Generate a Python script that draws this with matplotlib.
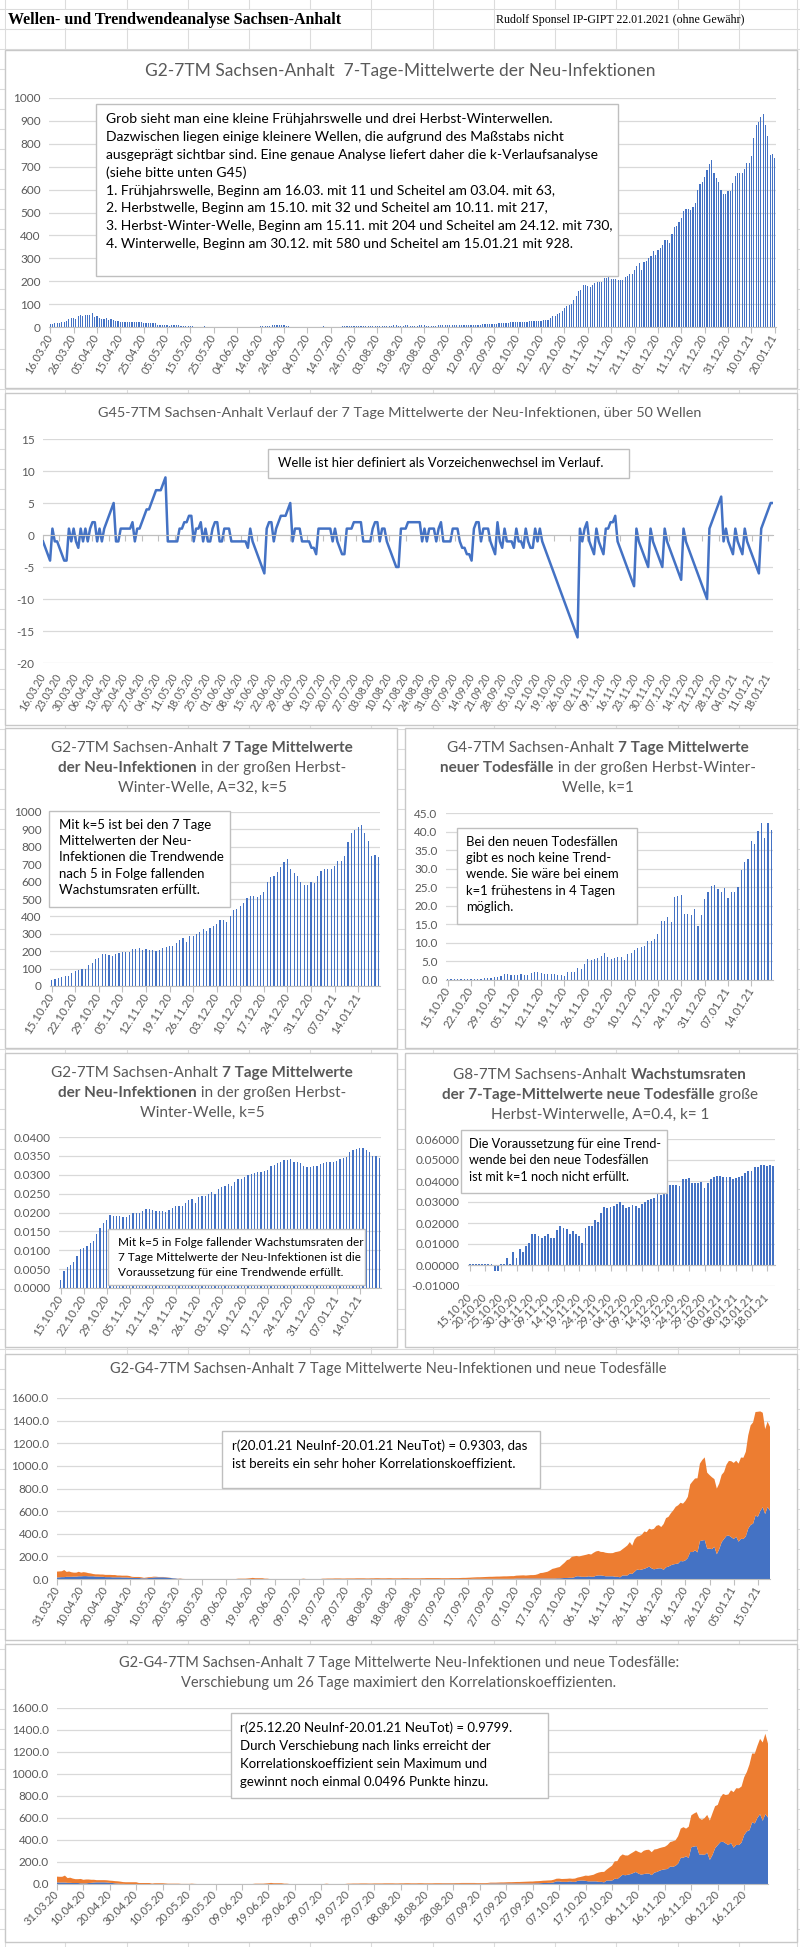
import numpy as np
import pandas as pd
import matplotlib
matplotlib.use('Agg')
import matplotlib.pyplot as plt
from matplotlib.patches import Rectangle
from matplotlib.offsetbox import TextArea, HPacker, AnnotationBbox
from matplotlib.ticker import FuncFormatter, FixedLocator, MultipleLocator

plt.rcParams['font.family'] = ['Lato', 'DejaVu Sans']

# ---------------- DATA ----------------
# 7-day means of new infections, 16.03.20 .. 14.10.20
INF_BEFORE = [
    11, 15, 17, 17, 17, 20, 22, 28, 33, 38,
    40, 36, 50, 52, 48, 52, 52, 52, 63, 43,
    47, 40, 35, 35, 40, 32, 35, 32, 28, 25,
    20, 20, 20, 20, 20, 20, 20, 20, 20, 20,
    16, 16, 16, 16, 16, 16, 9, 9, 9, 9,
    9, 4, 7, 7, 7, 7, 5, 3, 3, 3,
    3, 3, 1, 1, 1, 1, 3, 1, 0, 0,
    0, 0, 0, 0, 0, 0, 0, 0, 0, 0,
    0, 0, 0, 0, 0, 0, 0, 0, 0, 0,
    3, 3, 3, 3, 5, 7, 10, 7, 7, 7,
    7, 3, 3, 0, 0, 0, 0, 0, 0, 0,
    0, 0, 0, 0, 0, 0, 0, 3, 0, 0,
    0, 0, 0, 0, 0, 3, 3, 4, 4, 4,
    5, 5, 5, 4, 4, 5, 5, 5, 5, 6,
    6, 6, 6, 5, 5, 6, 6, 7, 7, 6,
    6, 6, 7, 7, 6, 6, 6, 6, 7, 7,
    7, 6, 6, 6, 6, 6, 7, 7, 8, 8,
    8, 8, 8, 8, 7, 7, 7, 7, 8, 8,
    8, 8, 9, 10, 10, 11, 12, 12, 13, 14,
    14, 15, 16, 17, 18, 18, 19, 20, 20, 21,
    22, 22, 23, 24, 24, 25, 26, 27, 28, 26,
    28, 30, 30]
# 7-day means of new infections, 15.10.20 .. 20.01.21 (autumn-winter wave)
INF_WAVE = [
    32, 38, 48, 50, 55, 60, 72, 85, 90, 95,
    100, 118, 135, 158, 163, 185, 185, 180, 175, 185,
    190, 195, 197, 197, 212, 215, 217, 208, 210, 208,
    205, 204, 205, 218, 222, 232, 232, 248, 265, 278,
    250, 285, 290, 300, 308, 330, 315, 335, 343, 358,
    380, 382, 365, 405, 435, 440, 460, 478, 505, 515,
    515, 510, 525, 540, 598, 625, 635, 655, 685, 712, 730,
    672, 650, 635, 598, 580, 580, 595, 592, 630, 660,
    672, 672, 672, 690, 718, 718, 748, 825, 880, 895, 915,
    928,
    880, 835, 750, 755, 740]
INF = INF_BEFORE + INF_WAVE

# k-Verlauf (sign-change course) of the 7-day means, 16.03.20 .. 20.01.21
K_COURSE = [
    -1, -2, -3, -4, 1, -1, -1, -2, -3, -4, -4,
    1, -1, 1, -1, -2, 1, -1, 1, -1, 1, 2, 2,
    -1, 1, -1, 1, 2, 3, 4, 5, -1, -1,
    1, 1, 1, 1, 1, 2, -1, 1, 1, 2, 3, 4, 4, 5, 6, 7, 7, 7, 8, 9,
    -1, -1, -1, -1, -1,
    1, 1, 2, 2, 3, 3,
    -1, 1, 1, 2, -1, 1, -1, -1, 1, 2, 2, -1, -1, 1, 1, 1,
    -1, -1, -1, -1, -1, -1, -1, -2, 1,
    -1, -2, -3, -4, -5, -6, 1, 2, 2, -1,
    1, 2, 3, 3, 3, 4, 5,
    -1, 1, 1, 1, -1, -1, -1, -1, -2, -2, -3,
    1, 1, 1, 1, 1, 1,
    -1, 1, -1, -2, -3, -3,
    1, 1, 1, 2, 2, 2, 2,
    -1, -1, -1, -1,
    1, 2, 2, -1, 1, 1, -1, -2, -3, -4, -5, -5,
    1, 1, 1, 2, 2, 2, 2, 2, 2, -1,
    1, -1, 1, 1, 1, -1, 1, 2, -1, -1, -1, -1, 1, 1, 1, -1, -2, -2, -3, -3, -4,
    1, 2, 2, -1, 1, 1, 1, -1, -2, -3, 2, -1, -2, 1, -1, -1, -1, -2, 1, -1,
    -1, -2, 1, -1, -2, -2, 1, -1, 1, -1, -2, -3, -4, -5, -6, -7, -8, -9, -10,
    -11, -12, -13, -14, -15, -16,
    1, -1, 1, 2, -1, -2, -3, 1, -1, -2, -3, 1, 1, 2, 2, 3, -1, -2, -3, -4, -5, -6, -7, -8,
    1, -1, -2, -3, -4, -5,
    1, -1, -2, -3, -4, -5,
    1, -1, -2, -3, -4, -5, -6, -7,
    1, -1, -2, -3, -4, -5, -6, -7, -8, -9, -10,
    1, 2, 3, 4, 5, 6,
    -1, 1, -1, -2, -3,
    1, -1, -2, -3,
    1, -1, -2, -3, -4, -5, -6,
    1, 2, 3, 4, 5, 5]

# 7-day means of new deaths, 31.03.20 .. 14.10.20
DEATH_BEFORE = [
    0.9, 1.0, 1.1, 1.1, 1.3, 1.3, 1.3, 1.4, 1.4, 1.6,
    1.6, 1.7, 1.7, 1.6, 1.6, 1.6, 1.4, 1.4, 1.3, 1.3,
    1.1, 1.1, 1.1, 1.0, 1.0, 1.0, 1.0, 0.9, 0.9, 0.9, 0.7,
    0.7, 0.6, 0.6, 0.6, 0.4, 0.4, 0.4, 0.6, 0.7, 0.9,
    1.0, 1.0, 1.0, 1.0, 0.9, 0.7, 0.6, 0.4, 0.3, 0.1,
    0.1, 0, 0, 0, 0, 0, 0, 0, 0, 0, 0,
    0, 0, 0, 0, 0, 0, 0, 0, 0, 0,
    0, 0, 0, 0, 0, 0, 0, 0, 0, 0,
    0, 0, 0, 0, 0, 0, 0, 0, 0, 0,
    0, 0, 0, 0, 0, 0, 0, 0, 0, 0,
    0, 0, 0, 0, 0, 0, 0, 0, 0, 0,
    0, 0, 0, 0, 0, 0, 0, 0, 0, 0, 0,
    0, 0, 0, 0, 0, 0, 0, 0, 0, 0,
    0, 0, 0, 0, 0, 0, 0, 0, 0, 0,
    0, 0, 0, 0, 0, 0, 0, 0, 0, 0, 0,
    0, 0, 0, 0, 0, 0, 0, 0, 0, 0,
    0, 0, 0, 0, 0, 0, 0, 0, 0.1, 0.1,
    0.1, 0.1, 0.1, 0.1, 0.1, 0.1, 0.1, 0.1, 0.1, 0.1,
    0.1, 0.1, 0.1, 0.1, 0.1, 0.1, 0.3, 0.3, 0.3, 0.3,
    0.3, 0.3, 0.3, 0.3]
# 7-day means of new deaths, 15.10.20 .. 20.01.21
DEATH_WAVE = [
    0.3, 0.3, 0.3, 0.3, 0.3, 0.3, 0.3, 0.3, 0.3, 0.4, 0.4, 0.5,
    0.6, 0.6, 0.7, 0.7, 1.0, 1.6, 1.6,
    1.3, 1.3, 1.3, 1.6, 1.3, 1.3, 1.9, 2.1, 2.1, 1.9, 1.6, 1.6, 1.6, 1.6, 1.3, 1.3,
    1.0, 2.1, 2.1, 2.1, 3.2, 3.0, 4.3,
    5.6, 5.3, 5.6, 6.0, 6.6, 7.3, 6.3, 5.7, 6.0, 6.3, 6.3, 5.4, 6.9, 7.3, 8.1,
    8.6, 8.9, 9.1, 10.6, 10.4, 11.0, 12.4, 15.9, 15.9, 16.9, 15.7, 22.3, 22.7, 23.0,
    17.9, 17.9, 17.6, 19.0, 14.6, 17.6, 21.7, 23.6, 25.4, 25.6, 24.6, 23.6, 24.9,
    22.0, 23.7, 23.6, 25.1, 29.7, 31.9, 32.6, 37.4, 36.7, 40.1, 42.3, 38.3, 42.4, 40.3]
DEATH = DEATH_BEFORE + DEATH_WAVE

# growth rates of the 7-day means of new infections, 15.10.20 .. 20.01.21
GR_INF = [
    0.0022, 0.0045, 0.0055, 0.0062, 0.0070, 0.0085, 0.0103, 0.0105, 0.0112, 0.0118,
    0.0125, 0.0143, 0.0158, 0.0172, 0.0180, 0.0193, 0.0190, 0.0192, 0.0190, 0.0187,
    0.0188, 0.0193, 0.0198, 0.0200, 0.0200, 0.0203, 0.0210, 0.0210, 0.0207, 0.0205,
    0.0205, 0.0203, 0.0202, 0.0207, 0.0213, 0.0217, 0.0218, 0.0218, 0.0225, 0.0232,
    0.0235, 0.0225, 0.0240, 0.0243, 0.0245, 0.0250, 0.0255, 0.0250, 0.0262, 0.0267,
    0.0270, 0.0275, 0.0270, 0.0280, 0.0288, 0.0290, 0.0295, 0.0300, 0.0302, 0.0305,
    0.0307, 0.0308, 0.0310, 0.0312, 0.0322, 0.0327, 0.0330, 0.0333, 0.0338, 0.0340,
    0.0342, 0.0335, 0.0333, 0.0330, 0.0322, 0.0320, 0.0320, 0.0322, 0.0323, 0.0328,
    0.0332, 0.0333, 0.0335, 0.0335, 0.0337, 0.0342, 0.0345, 0.0348, 0.0360, 0.0365,
    0.0368, 0.0370, 0.0370, 0.0365, 0.0360, 0.0350, 0.0350, 0.0345]
# growth rates of the 7-day means of new deaths, 15.10.20 .. 20.01.21
GR_DEATH = [
    0.0007, 0.0007, 0.0007, 0.0007, 0.0007, 0.0007, 0.0007, 0.0007, -0.0030, -0.0030,
    0.0007, 0.0007, 0.0035, 0.0007, 0.0060, 0.0035, 0.0078, 0.0060, 0.0090, 0.0105,
    0.0150, 0.0150, 0.0140, 0.0130, 0.0140, 0.0150, 0.0130, 0.0130, 0.0165, 0.0188,
    0.0178, 0.0172, 0.0150, 0.0160, 0.0150, 0.0140, 0.0105, 0.0178, 0.0188, 0.0188,
    0.0215, 0.0205, 0.0250, 0.0275, 0.0272, 0.0277, 0.0282, 0.0290, 0.0300, 0.0285,
    0.0272, 0.0275, 0.0285, 0.0282, 0.0272, 0.0290, 0.0300, 0.0310, 0.0315, 0.0320,
    0.0338, 0.0332, 0.0338, 0.0345, 0.0380, 0.0380, 0.0383, 0.0375, 0.0410, 0.0410,
    0.0415, 0.0390, 0.0390, 0.0390, 0.0395, 0.0365, 0.0390, 0.0410, 0.0418, 0.0425,
    0.0425, 0.0420, 0.0418, 0.0420, 0.0410, 0.0415, 0.0418, 0.0422, 0.0440, 0.0450,
    0.0450, 0.0465, 0.0468, 0.0475, 0.0478, 0.0470, 0.0478, 0.0472]

START_ALL = '2020-03-16'
START_WAVE = '2020-10-15'
START_AREA = '2020-03-31'
AREA_OFFSET = 15          # 31.03.20 is day 15 after 16.03.20
DEATH_SCALE = 15          # deaths drawn scaled in the area charts
SHIFT_DAYS = 26           # shift of the infections in the last chart
SHIFT_END = '2020-12-25'

# ---------------- STYLE ----------------
BLUE = '#4472C4'
ORANGE = '#ED7D31'
TXT = '#595959'
GRID = '#d9d9d9'
W, H = 800, 1947

fig = plt.figure(figsize=(W / 100, H / 100), dpi=100)
fig.patch.set_facecolor('white')


def fr(x0, y0, x1, y1):
    return [x0 / W, 1 - y1 / H, (x1 - x0) / W, (y1 - y0) / H]


bg = fig.add_axes([0, 0, 1, 1], zorder=0)
bg.set_xlim(0, W); bg.set_ylim(H, 0); bg.axis('off')
fg = fig.add_axes([0, 0, 1, 1], zorder=20)
fg.set_xlim(0, W); fg.set_ylim(H, 0); fg.axis('off'); fg.patch.set_alpha(0)

# spreadsheet grid
for yy in range(9, H, 20):
    bg.axhline(yy, color='#dcdcdc', lw=0.8, zorder=0)
for xx in [5, 65, 127, 188, 249, 310, 371, 433, 494, 555, 616, 678, 739, 797]:
    bg.axvline(xx, color='#dcdcdc', lw=0.8, zorder=0)
bg.add_patch(Rectangle((6, 10), 364, 18, fc='white', ec='none', zorder=1))
bg.add_patch(Rectangle((495, 10), 243, 18, fc='white', ec='none', zorder=1))
fg.text(8, 20, 'Wellen- und Trendwendeanalyse Sachsen-Anhalt', family='Liberation Serif',
        fontweight='bold', fontsize=11.5, va='center', ha='left', color='black')
fg.text(496, 20, 'Rudolf Sponsel IP-GIPT 22.01.2021 (ohne Gewähr)', family='Liberation Serif',
        fontsize=8.6, va='center', ha='left', color='black')

# chart frames
for (x0, y0, x1, y1) in [(5, 50, 797, 388), (5, 393, 797, 725), (5, 728, 397, 1048),
                         (405, 728, 797, 1048), (5, 1053, 397, 1347), (405, 1053, 797, 1347),
                         (5, 1354, 797, 1640), (5, 1644, 797, 1942)]:
    bg.add_patch(Rectangle((x0, y0), x1 - x0, y1 - y0, fc='white', ec='#c8c8c8', lw=1, zorder=2))


def labels(start, n, step):
    d = pd.date_range(start, periods=n)
    pos = list(range(0, n, step))
    return pos, [d[i].strftime('%d.%m.%y') for i in pos]


def style(ax, n, start, step, yfmt, ysize, xsize, rot, pad=2):
    for s in ['top', 'right', 'left']:
        ax.spines[s].set_visible(False)
    ax.spines['bottom'].set_color('#bfbfbf')
    ax.grid(axis='y', color=GRID, lw=0.9)
    ax.set_axisbelow(True)
    ax.tick_params(axis='y', length=0, labelsize=ysize, labelcolor=TXT, pad=6)
    ax.yaxis.set_major_formatter(FuncFormatter(lambda v, p: yfmt.format(v)))
    pos, lab = labels(start, n, step)
    ax.set_xticks(pos)
    ax.set_xticklabels(lab, rotation=rot, ha='right', va='center', rotation_mode='anchor',
                       fontsize=xsize, color=TXT)
    ax.tick_params(axis='x', length=4, color='#bfbfbf', width=0.8, pad=pad)
    ax.patch.set_alpha(0)


def box(x0, y0, x1, y1, lines, tx, ty, dy, size):
    fg.add_patch(Rectangle((x0, y0), x1 - x0, y1 - y0, fc='white', ec='#bfbfbf', lw=1, zorder=5))
    for i, t in enumerate(lines):
        fg.text(tx, ty + i * dy, t, fontsize=size, color='black', va='center', ha='left', zorder=6)


def mixed(lines, cx, ys, size):
    for segs, y in zip(lines, ys):
        areas = [TextArea(t, textprops=dict(fontsize=size, color=TXT,
                                            fontweight='bold' if b else 'normal')) for t, b in segs]
        pack = HPacker(children=areas, pad=0, sep=0, align='baseline')
        ab = AnnotationBbox(pack, (cx, y), xycoords='data', frameon=False,
                            box_alignment=(0.5, 0.5), pad=0)
        fg.add_artist(ab)


# ---------- Chart 1 ----------
ax1 = fig.add_axes(fr(49, 98, 776, 327), zorder=5)
n1 = len(INF)
ax1.bar(np.arange(n1), INF, width=0.5, color=BLUE)
ax1.set_xlim(-0.5, n1 - 0.5); ax1.set_ylim(0, 1000)
ax1.yaxis.set_major_locator(MultipleLocator(100))
style(ax1, n1, START_ALL, 10, '{:.0f}', 8.5, 8, 60)
fg.text(400, 71, 'G2-7TM Sachsen-Anhalt  7-Tage-Mittelwerte der Neu-Infektionen',
        fontsize=12.5, color=TXT, ha='center', va='center')
box(96, 104, 618, 276, [
    'Grob sieht man eine kleine Frühjahrswelle und drei Herbst-Winterwellen.',
    'Dazwischen liegen einige kleinere Wellen, die aufgrund des Maßstabs nicht',
    'ausgeprägt sichtbar sind. Eine genaue Analyse liefert daher die k-Verlaufsanalyse',
    '(siehe bitte unten G45)',
    '1. Frühjahrswelle, Beginn am 16.03. mit 11 und Scheitel am 03.04. mit 63,',
    '2. Herbstwelle, Beginn am 15.10. mit 32 und Scheitel am 10.11. mit 217,',
    '3. Herbst-Winter-Welle, Beginn am 15.11. mit 204 und Scheitel am 24.12. mit 730,',
    '4. Winterwelle, Beginn am 30.12. mit 580 und Scheitel am 15.01.21 mit 928.'],
    106, 119, 17.9, 10.0)

# ---------- Chart 2 ----------
ax2 = fig.add_axes(fr(43, 439, 773, 663), zorder=5)
n2 = len(K_COURSE)
ax2.plot(np.arange(n2), K_COURSE, color=BLUE, lw=1.8)
ax2.set_xlim(0, n2 - 1); ax2.set_ylim(-20, 15)
ax2.spines['bottom'].set_position(('data', 0))
ax2.yaxis.set_major_locator(MultipleLocator(5))
style(ax2, n2, START_ALL, 7, '{:.0f}', 8.5, 7.6, 60, pad=(128 + 6) * 0.72)
fg.text(400, 413, 'G45-7TM Sachsen-Anhalt Verlauf der 7 Tage Mittelwerte der Neu-Infektionen, über 50 Wellen',
        fontsize=10.4, color=TXT, ha='center', va='center')
box(268, 449, 629, 478, ['Welle ist hier definiert als Vorzeichenwechsel im Verlauf.'], 278, 463, 0, 9.4)

# ---------- Chart 3 ----------
ax3 = fig.add_axes(fr(50, 812, 380, 986), zorder=5)
n3 = len(INF_WAVE)
ax3.bar(np.arange(n3), INF_WAVE, width=0.35, color=BLUE)
ax3.set_xlim(-0.5, n3 - 0.5); ax3.set_ylim(0, 1000)
ax3.yaxis.set_major_locator(MultipleLocator(100))
style(ax3, n3, START_WAVE, 7, '{:.0f}', 8.5, 8.3, 58)
mixed([[('G2-7TM Sachsen-Anhalt ', False), ('7 Tage Mittelwerte', True)],
       [('der Neu-Infektionen', True), (' in der großen Herbst-', False)],
       [('Winter-Welle, A=32, k=5', False)]], 202, [748, 768, 788], 11)
box(49, 811, 230, 907, ['Mit k=5 ist bei den 7 Tage', 'Mittelwerten der Neu-',
                        'Infektionen die Trendwende', 'nach 5 in Folge fallenden',
                        'Wachstumsraten erfüllt.'], 59, 825, 16.2, 9.5)

# ---------- Chart 4 ----------
ax4 = fig.add_axes(fr(446, 813, 773, 980), zorder=5)
n4 = len(DEATH_WAVE)
ax4.bar(np.arange(n4), DEATH_WAVE, width=0.35, color=BLUE)
ax4.set_xlim(-0.5, n4 - 0.5); ax4.set_ylim(0, 45)
ax4.yaxis.set_major_locator(MultipleLocator(5))
style(ax4, n4, START_WAVE, 7, '{:.1f}', 8.5, 8.3, 58)
mixed([[('G4-7TM Sachsen-Anhalt ', False), ('7 Tage Mittelwerte', True)],
       [('neuer Todesfälle', True), (' in der großen Herbst-Winter-', False)],
       [('Welle, k=1', False)]], 598, [748, 768, 788], 11)
box(457, 828, 637, 924, ['Bei den neuen Todesfällen', 'gibt es noch keine Trend-',
                         'wende. Sie wäre bei einem', 'k=1 frühestens in 4 Tagen',
                         'möglich.'], 466, 842, 16.2, 9.4)

# ---------- Chart 5 ----------
ax5 = fig.add_axes(fr(59, 1137, 381, 1288), zorder=5)
n5 = len(GR_INF)
ax5.bar(np.arange(n5), GR_INF, width=0.35, color=BLUE)
ax5.set_xlim(-0.5, n5 - 0.5); ax5.set_ylim(0, 0.04)
ax5.yaxis.set_major_locator(MultipleLocator(0.005))
style(ax5, n5, START_WAVE, 7, '{:.4f}', 8.5, 8.3, 58)
mixed([[('G2-7TM Sachsen-Anhalt ', False), ('7 Tage Mittelwerte', True)],
       [('der Neu-Infektionen', True), (' in der großen Herbst-', False)],
       [('Winter-Welle, k=5', False)]], 202, [1073, 1093, 1113], 11)
box(108, 1229, 365, 1285, ['Mit k=5 in Folge fallender Wachstumsraten der',
                           '7 Tage Mittelwerte der Neu-Infektionen ist die',
                           'Voraussetzung für eine Trendwende erfüllt.'], 118, 1242, 15.2, 8.5)

# ---------- Chart 6 ----------
ax6 = fig.add_axes(fr(468, 1139, 775, 1286), zorder=5)
n6 = len(GR_DEATH)
ax6.bar(np.arange(n6), GR_DEATH, width=0.6, color=BLUE)
ax6.set_xlim(-0.5, n6 - 0.5); ax6.set_ylim(-0.01, 0.06)
ax6.spines['bottom'].set_position(('data', 0))
ax6.yaxis.set_major_locator(MultipleLocator(0.01))
style(ax6, n6, START_WAVE, 5, '{:.5f}', 8.5, 8, 45, pad=(21 + 4) * 0.72)
mixed([[('G8-7TM Sachsens-Anhalt ', False), ('Wachstumsraten', True)],
       [('der 7-Tage-Mittelwerte neue Todesfälle', True), (' große', False)],
       [('Herbst-Winterwelle, A=0.4, k= 1', False)]], 600, [1075, 1095, 1115], 11)
box(461, 1130, 667, 1193, ['Die Voraussetzung für eine Trend-', 'wende bei den neue Todesfällen',
                           'ist mit k=1 noch nicht erfüllt.'], 469, 1144, 16.5, 9.1)

# ---------- Chart 7 ----------
ax7 = fig.add_axes(fr(57, 1398, 770, 1579), zorder=5)
inf7 = np.array(INF[AREA_OFFSET:], dtype=float)
dth7 = np.array(DEATH, dtype=float) * DEATH_SCALE
n7 = len(inf7)
ax7.stackplot(np.arange(n7), dth7, inf7, colors=[BLUE, ORANGE], lw=0)
ax7.set_xlim(0, n7 - 1); ax7.set_ylim(0, 1600)
ax7.yaxis.set_major_locator(MultipleLocator(200))
style(ax7, n7, START_AREA, 10, '{:.1f}', 8.5, 8, 60)
fg.text(388, 1369, 'G2-G4-7TM Sachsen-Anhalt 7 Tage Mittelwerte Neu-Infektionen und neue Todesfälle',
        fontsize=10.5, color=TXT, ha='center', va='center')
box(222, 1431, 540, 1488, ['r(20.01.21 NeuInf-20.01.21 NeuTot) = 0.9303, das',
                           'ist bereits ein sehr hoher Korrelationskoeffizient.'], 232, 1446, 17.5, 9.5)

# ---------- Chart 8 ----------
ax8 = fig.add_axes(fr(57, 1708, 768, 1884), zorder=5)
n8 = len(pd.date_range(START_AREA, SHIFT_END))
inf8 = np.array(INF[AREA_OFFSET:AREA_OFFSET + n8], dtype=float)
dth8 = np.array(DEATH[SHIFT_DAYS:SHIFT_DAYS + n8], dtype=float) * DEATH_SCALE
ax8.stackplot(np.arange(n8), dth8, inf8, colors=[BLUE, ORANGE], lw=0)
ax8.set_xlim(0, n8 - 1); ax8.set_ylim(0, 1600)
ax8.yaxis.set_major_locator(MultipleLocator(200))
style(ax8, n8, START_AREA, 10, '{:.1f}', 8.5, 8, 45)
fg.text(399, 1663, 'G2-G4-7TM Sachsen-Anhalt 7 Tage Mittelwerte Neu-Infektionen und neue Todesfälle:',
        fontsize=10.5, color=TXT, ha='center', va='center')
fg.text(399, 1683, 'Verschiebung um 26 Tage maximiert den Korrelationskoeffizienten.',
        fontsize=10.5, color=TXT, ha='center', va='center')
box(231, 1713, 548, 1798, ['r(25.12.20 NeuInf-20.01.21 NeuTot) = 0.9799.',
                           'Durch Verschiebung nach links erreicht der',
                           'Korrelationskoeffizient sein Maximum und',
                           'gewinnt noch einmal 0.0496 Punkte hinzu.'], 240, 1728, 18, 9.5)

fig.savefig('out.png', dpi=100, facecolor='white')
